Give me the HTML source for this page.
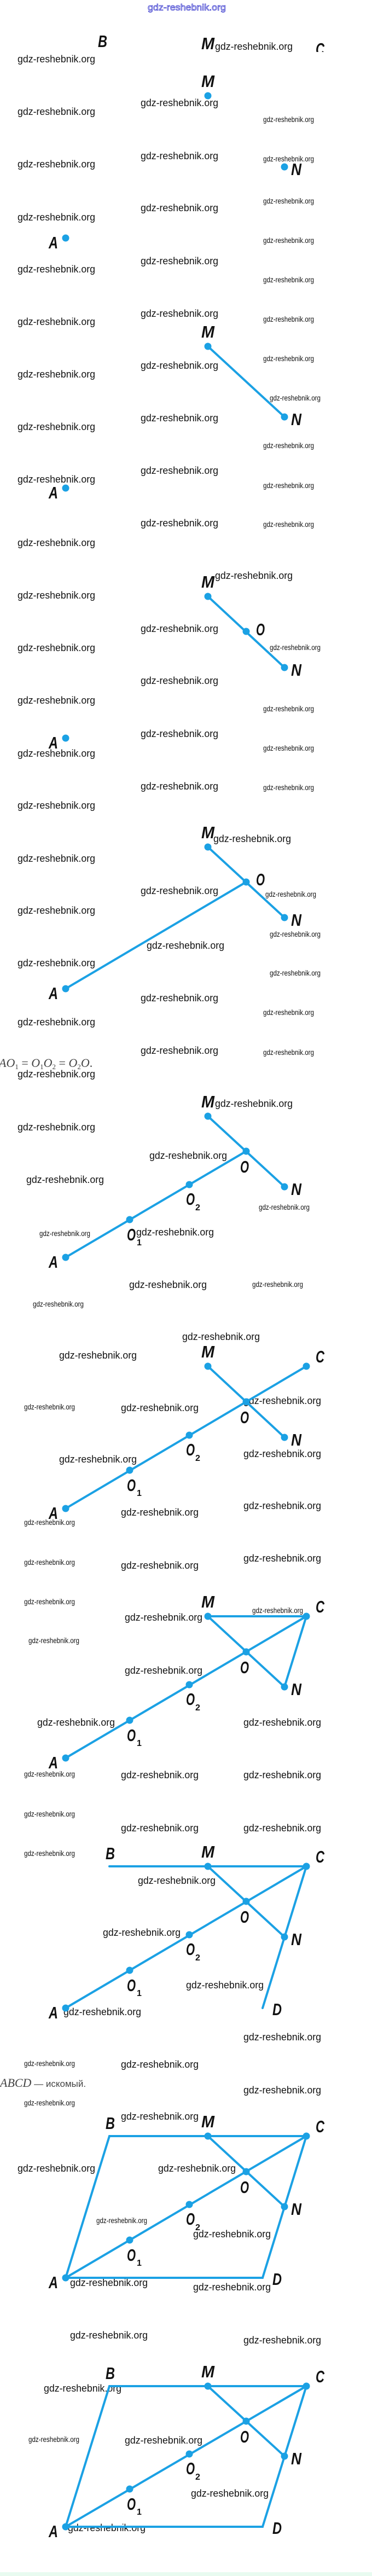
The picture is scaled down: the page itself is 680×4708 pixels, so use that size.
<!DOCTYPE html>
<html><head><meta charset="utf-8"><style>
html,body{margin:0;padding:0;background:#fff;width:680px;height:4708px;overflow:hidden}
svg{display:block}
.L{font-family:"Liberation Sans",sans-serif;font-size:18px;fill:#111}
.S{font-family:"Liberation Sans",sans-serif;font-size:14px;fill:#111}
.lb{font-family:"Liberation Sans",sans-serif;font-size:31px;font-weight:bold;font-style:italic;fill:#111}
.sb{font-family:"Liberation Sans",sans-serif;font-size:16px;font-weight:bold;fill:#111}
.ln{stroke:#1ba1e4;stroke-width:4;stroke-linecap:round;fill:none}
.d{fill:#1ba1e4}
</style></head><body>
<svg width="680" height="4708" viewBox="0 0 680 4708" xmlns="http://www.w3.org/2000/svg">
<rect width="680" height="4708" fill="#fff"/>
<text x="270" y="19" font-family="Liberation Sans,sans-serif" font-size="17" fill="none" stroke="#3333cc" stroke-width="0.8" textLength="143" lengthAdjust="spacingAndGlyphs">gdz-reshebnik.org</text>

<!-- watermarks L -->
<g class="L">
<text x="393" y="91" textLength="142" lengthAdjust="spacingAndGlyphs">gdz-reshebnik.org</text>
<text x="32" y="114" textLength="142" lengthAdjust="spacingAndGlyphs">gdz-reshebnik.org</text>
<text x="32" y="210" textLength="142" lengthAdjust="spacingAndGlyphs">gdz-reshebnik.org</text>
<text x="32" y="306" textLength="142" lengthAdjust="spacingAndGlyphs">gdz-reshebnik.org</text>
<text x="32" y="403" textLength="142" lengthAdjust="spacingAndGlyphs">gdz-reshebnik.org</text>
<text x="32" y="498" textLength="142" lengthAdjust="spacingAndGlyphs">gdz-reshebnik.org</text>
<text x="32" y="594" textLength="142" lengthAdjust="spacingAndGlyphs">gdz-reshebnik.org</text>
<text x="32" y="690" textLength="142" lengthAdjust="spacingAndGlyphs">gdz-reshebnik.org</text>
<text x="32" y="786" textLength="142" lengthAdjust="spacingAndGlyphs">gdz-reshebnik.org</text>
<text x="32" y="882" textLength="142" lengthAdjust="spacingAndGlyphs">gdz-reshebnik.org</text>
<text x="32" y="998" textLength="142" lengthAdjust="spacingAndGlyphs">gdz-reshebnik.org</text>
<text x="32" y="1094" textLength="142" lengthAdjust="spacingAndGlyphs">gdz-reshebnik.org</text>
<text x="32" y="1190" textLength="142" lengthAdjust="spacingAndGlyphs">gdz-reshebnik.org</text>
<text x="32" y="1286" textLength="142" lengthAdjust="spacingAndGlyphs">gdz-reshebnik.org</text>
<text x="32" y="1383" textLength="142" lengthAdjust="spacingAndGlyphs">gdz-reshebnik.org</text>
<text x="32" y="1478" textLength="142" lengthAdjust="spacingAndGlyphs">gdz-reshebnik.org</text>
<text x="32" y="1575" textLength="142" lengthAdjust="spacingAndGlyphs">gdz-reshebnik.org</text>
<text x="32" y="1670" textLength="142" lengthAdjust="spacingAndGlyphs">gdz-reshebnik.org</text>
<text x="32" y="1766" textLength="142" lengthAdjust="spacingAndGlyphs">gdz-reshebnik.org</text>
<text x="32" y="1874" textLength="142" lengthAdjust="spacingAndGlyphs">gdz-reshebnik.org</text>
<text x="32" y="1969" textLength="142" lengthAdjust="spacingAndGlyphs">gdz-reshebnik.org</text>
<text x="32" y="2066" textLength="142" lengthAdjust="spacingAndGlyphs">gdz-reshebnik.org</text>
<text x="257" y="194" textLength="142" lengthAdjust="spacingAndGlyphs">gdz-reshebnik.org</text>
<text x="257" y="291" textLength="142" lengthAdjust="spacingAndGlyphs">gdz-reshebnik.org</text>
<text x="257" y="386" textLength="142" lengthAdjust="spacingAndGlyphs">gdz-reshebnik.org</text>
<text x="257" y="483" textLength="142" lengthAdjust="spacingAndGlyphs">gdz-reshebnik.org</text>
<text x="257" y="579" textLength="142" lengthAdjust="spacingAndGlyphs">gdz-reshebnik.org</text>
<text x="257" y="674" textLength="142" lengthAdjust="spacingAndGlyphs">gdz-reshebnik.org</text>
<text x="257" y="770" textLength="142" lengthAdjust="spacingAndGlyphs">gdz-reshebnik.org</text>
<text x="257" y="866" textLength="142" lengthAdjust="spacingAndGlyphs">gdz-reshebnik.org</text>
<text x="257" y="962" textLength="142" lengthAdjust="spacingAndGlyphs">gdz-reshebnik.org</text>
<text x="257" y="1155" textLength="142" lengthAdjust="spacingAndGlyphs">gdz-reshebnik.org</text>
<text x="257" y="1250" textLength="142" lengthAdjust="spacingAndGlyphs">gdz-reshebnik.org</text>
<text x="257" y="1347" textLength="142" lengthAdjust="spacingAndGlyphs">gdz-reshebnik.org</text>
<text x="257" y="1443" textLength="142" lengthAdjust="spacingAndGlyphs">gdz-reshebnik.org</text>
<text x="257" y="1634" textLength="142" lengthAdjust="spacingAndGlyphs">gdz-reshebnik.org</text>
<text x="268" y="1734" textLength="142" lengthAdjust="spacingAndGlyphs">gdz-reshebnik.org</text>
<text x="257" y="1830" textLength="142" lengthAdjust="spacingAndGlyphs">gdz-reshebnik.org</text>
<text x="257" y="1926" textLength="142" lengthAdjust="spacingAndGlyphs">gdz-reshebnik.org</text>
<text x="393" y="1058" textLength="142" lengthAdjust="spacingAndGlyphs">gdz-reshebnik.org</text>
<text x="390" y="1539" textLength="142" lengthAdjust="spacingAndGlyphs">gdz-reshebnik.org</text>
<text x="393" y="2023" textLength="142" lengthAdjust="spacingAndGlyphs">gdz-reshebnik.org</text>
<text x="273" y="2118" textLength="142" lengthAdjust="spacingAndGlyphs">gdz-reshebnik.org</text>
<text x="48" y="2162" textLength="142" lengthAdjust="spacingAndGlyphs">gdz-reshebnik.org</text>
<text x="249" y="2258" textLength="142" lengthAdjust="spacingAndGlyphs">gdz-reshebnik.org</text>
<text x="236" y="2354" textLength="142" lengthAdjust="spacingAndGlyphs">gdz-reshebnik.org</text>
<text x="333" y="2449" textLength="142" lengthAdjust="spacingAndGlyphs">gdz-reshebnik.org</text>
<text x="108" y="2483" textLength="142" lengthAdjust="spacingAndGlyphs">gdz-reshebnik.org</text>
<text x="221" y="2579" textLength="142" lengthAdjust="spacingAndGlyphs">gdz-reshebnik.org</text>
<text x="445" y="2566" textLength="142" lengthAdjust="spacingAndGlyphs">gdz-reshebnik.org</text>
<text x="108" y="2673" textLength="142" lengthAdjust="spacingAndGlyphs">gdz-reshebnik.org</text>
<text x="445" y="2663" textLength="142" lengthAdjust="spacingAndGlyphs">gdz-reshebnik.org</text>
<text x="445" y="2758" textLength="142" lengthAdjust="spacingAndGlyphs">gdz-reshebnik.org</text>
<text x="221" y="2770" textLength="142" lengthAdjust="spacingAndGlyphs">gdz-reshebnik.org</text>
<text x="221" y="2867" textLength="142" lengthAdjust="spacingAndGlyphs">gdz-reshebnik.org</text>
<text x="445" y="2854" textLength="142" lengthAdjust="spacingAndGlyphs">gdz-reshebnik.org</text>
<text x="228" y="2962" textLength="142" lengthAdjust="spacingAndGlyphs">gdz-reshebnik.org</text>
<text x="228" y="3059" textLength="142" lengthAdjust="spacingAndGlyphs">gdz-reshebnik.org</text>
<text x="68" y="3154" textLength="142" lengthAdjust="spacingAndGlyphs">gdz-reshebnik.org</text>
<text x="445" y="3154" textLength="142" lengthAdjust="spacingAndGlyphs">gdz-reshebnik.org</text>
<text x="221" y="3250" textLength="142" lengthAdjust="spacingAndGlyphs">gdz-reshebnik.org</text>
<text x="445" y="3250" textLength="142" lengthAdjust="spacingAndGlyphs">gdz-reshebnik.org</text>
<text x="221" y="3347" textLength="142" lengthAdjust="spacingAndGlyphs">gdz-reshebnik.org</text>
<text x="445" y="3347" textLength="142" lengthAdjust="spacingAndGlyphs">gdz-reshebnik.org</text>
<text x="252" y="3443" textLength="142" lengthAdjust="spacingAndGlyphs">gdz-reshebnik.org</text>
<text x="188" y="3538" textLength="142" lengthAdjust="spacingAndGlyphs">gdz-reshebnik.org</text>
<text x="340" y="3634" textLength="142" lengthAdjust="spacingAndGlyphs">gdz-reshebnik.org</text>
<text x="116" y="3683" textLength="142" lengthAdjust="spacingAndGlyphs">gdz-reshebnik.org</text>
<text x="445" y="3729" textLength="142" lengthAdjust="spacingAndGlyphs">gdz-reshebnik.org</text>
<text x="221" y="3779" textLength="142" lengthAdjust="spacingAndGlyphs">gdz-reshebnik.org</text>
<text x="445" y="3826" textLength="142" lengthAdjust="spacingAndGlyphs">gdz-reshebnik.org</text>
<text x="221" y="3874" textLength="142" lengthAdjust="spacingAndGlyphs">gdz-reshebnik.org</text>
<text x="32" y="3969" textLength="142" lengthAdjust="spacingAndGlyphs">gdz-reshebnik.org</text>
<text x="289" y="3969" textLength="142" lengthAdjust="spacingAndGlyphs">gdz-reshebnik.org</text>
<text x="353" y="4089" textLength="142" lengthAdjust="spacingAndGlyphs">gdz-reshebnik.org</text>
<text x="128" y="4178" textLength="142" lengthAdjust="spacingAndGlyphs">gdz-reshebnik.org</text>
<text x="353" y="4186" textLength="142" lengthAdjust="spacingAndGlyphs">gdz-reshebnik.org</text>
<text x="128" y="4274" textLength="142" lengthAdjust="spacingAndGlyphs">gdz-reshebnik.org</text>
<text x="445" y="4283" textLength="142" lengthAdjust="spacingAndGlyphs">gdz-reshebnik.org</text>
<text x="80" y="4371" textLength="142" lengthAdjust="spacingAndGlyphs">gdz-reshebnik.org</text>
<text x="228" y="4466" textLength="142" lengthAdjust="spacingAndGlyphs">gdz-reshebnik.org</text>
<text x="349" y="4563" textLength="142" lengthAdjust="spacingAndGlyphs">gdz-reshebnik.org</text>
<text x="124" y="4626" textLength="142" lengthAdjust="spacingAndGlyphs">gdz-reshebnik.org</text>
</g>
<!-- watermarks S -->
<g class="S">
<text x="481" y="223" textLength="93" lengthAdjust="spacingAndGlyphs">gdz-reshebnik.org</text>
<text x="481" y="295" textLength="93" lengthAdjust="spacingAndGlyphs">gdz-reshebnik.org</text>
<text x="481" y="372" textLength="93" lengthAdjust="spacingAndGlyphs">gdz-reshebnik.org</text>
<text x="481" y="444" textLength="93" lengthAdjust="spacingAndGlyphs">gdz-reshebnik.org</text>
<text x="481" y="516" textLength="93" lengthAdjust="spacingAndGlyphs">gdz-reshebnik.org</text>
<text x="481" y="588" textLength="93" lengthAdjust="spacingAndGlyphs">gdz-reshebnik.org</text>
<text x="481" y="660" textLength="93" lengthAdjust="spacingAndGlyphs">gdz-reshebnik.org</text>
<text x="493" y="732" textLength="93" lengthAdjust="spacingAndGlyphs">gdz-reshebnik.org</text>
<text x="481" y="819" textLength="93" lengthAdjust="spacingAndGlyphs">gdz-reshebnik.org</text>
<text x="481" y="892" textLength="93" lengthAdjust="spacingAndGlyphs">gdz-reshebnik.org</text>
<text x="481" y="963" textLength="93" lengthAdjust="spacingAndGlyphs">gdz-reshebnik.org</text>
<text x="493" y="1188" textLength="93" lengthAdjust="spacingAndGlyphs">gdz-reshebnik.org</text>
<text x="481" y="1300" textLength="93" lengthAdjust="spacingAndGlyphs">gdz-reshebnik.org</text>
<text x="481" y="1372" textLength="93" lengthAdjust="spacingAndGlyphs">gdz-reshebnik.org</text>
<text x="481" y="1444" textLength="93" lengthAdjust="spacingAndGlyphs">gdz-reshebnik.org</text>
<text x="485" y="1639" textLength="93" lengthAdjust="spacingAndGlyphs">gdz-reshebnik.org</text>
<text x="493" y="1712" textLength="93" lengthAdjust="spacingAndGlyphs">gdz-reshebnik.org</text>
<text x="493" y="1783" textLength="93" lengthAdjust="spacingAndGlyphs">gdz-reshebnik.org</text>
<text x="481" y="1855" textLength="93" lengthAdjust="spacingAndGlyphs">gdz-reshebnik.org</text>
<text x="481" y="1928" textLength="93" lengthAdjust="spacingAndGlyphs">gdz-reshebnik.org</text>
<text x="473" y="2211" textLength="93" lengthAdjust="spacingAndGlyphs">gdz-reshebnik.org</text>
<text x="72" y="2259" textLength="93" lengthAdjust="spacingAndGlyphs">gdz-reshebnik.org</text>
<text x="461" y="2352" textLength="93" lengthAdjust="spacingAndGlyphs">gdz-reshebnik.org</text>
<text x="60" y="2388" textLength="93" lengthAdjust="spacingAndGlyphs">gdz-reshebnik.org</text>
<text x="44" y="2576" textLength="93" lengthAdjust="spacingAndGlyphs">gdz-reshebnik.org</text>
<text x="44" y="2787" textLength="93" lengthAdjust="spacingAndGlyphs">gdz-reshebnik.org</text>
<text x="44" y="2860" textLength="93" lengthAdjust="spacingAndGlyphs">gdz-reshebnik.org</text>
<text x="44" y="2932" textLength="93" lengthAdjust="spacingAndGlyphs">gdz-reshebnik.org</text>
<text x="461" y="2948" textLength="93" lengthAdjust="spacingAndGlyphs">gdz-reshebnik.org</text>
<text x="52" y="3003" textLength="93" lengthAdjust="spacingAndGlyphs">gdz-reshebnik.org</text>
<text x="44" y="3247" textLength="93" lengthAdjust="spacingAndGlyphs">gdz-reshebnik.org</text>
<text x="44" y="3320" textLength="93" lengthAdjust="spacingAndGlyphs">gdz-reshebnik.org</text>
<text x="44" y="3392" textLength="93" lengthAdjust="spacingAndGlyphs">gdz-reshebnik.org</text>
<text x="44" y="3776" textLength="93" lengthAdjust="spacingAndGlyphs">gdz-reshebnik.org</text>
<text x="44" y="3848" textLength="93" lengthAdjust="spacingAndGlyphs">gdz-reshebnik.org</text>
<text x="176" y="4063" textLength="93" lengthAdjust="spacingAndGlyphs">gdz-reshebnik.org</text>
<text x="52" y="4463" textLength="93" lengthAdjust="spacingAndGlyphs">gdz-reshebnik.org</text>
</g>

<!-- formulas -->
<text x="-2" y="1950" font-family="Liberation Serif,serif" font-size="22" fill="#444"><tspan font-style="italic">AO</tspan><tspan font-size="13" dy="4">1</tspan><tspan dy="-4"> = </tspan><tspan font-style="italic">O</tspan><tspan font-size="13" dy="4">1</tspan><tspan dy="-4" font-style="italic">O</tspan><tspan font-size="13" dy="4">2</tspan><tspan dy="-4"> = </tspan><tspan font-style="italic">O</tspan><tspan font-size="13" dy="4">2</tspan><tspan dy="-4" font-style="italic">O</tspan><tspan>.</tspan></text>
<text x="0" y="3814" font-family="Liberation Serif,serif" font-size="22" fill="#444"><tspan font-style="italic">ABCD</tspan><tspan font-family="Liberation Sans,sans-serif" font-size="17"> — искомый.</tspan></text>

<!-- Fig0 -->
<defs><clipPath id="c0"><rect x="0" y="0" width="680" height="95"/></clipPath></defs>
<text class="lb" x="179" y="86" textLength="17" lengthAdjust="spacingAndGlyphs">B</text>
<text class="lb" x="368" y="90" textLength="24" lengthAdjust="spacingAndGlyphs">M</text>
<text class="lb" x="577" y="100" textLength="16" lengthAdjust="spacingAndGlyphs" clip-path="url(#c0)">C</text>

<!-- Fig1 -->
<g>
<circle class="d" cx="380" cy="175" r="6.5"/><circle class="d" cx="520" cy="305" r="6.5"/><circle class="d" cx="120" cy="435" r="6.5"/>
<text class="lb" x="368" y="159" textLength="24" lengthAdjust="spacingAndGlyphs">M</text>
<text class="lb" x="532" y="320" textLength="19" lengthAdjust="spacingAndGlyphs">N</text>
<text class="lb" x="89" y="454" textLength="17" lengthAdjust="spacingAndGlyphs">A</text>
</g>
<!-- Fig2 -->
<g>
<line class="ln" x1="380" y1="633" x2="520" y2="762"/>
<circle class="d" cx="380" cy="633" r="6.5"/><circle class="d" cx="520" cy="762" r="6.5"/><circle class="d" cx="120" cy="892" r="6.5"/>
<text class="lb" x="368" y="617" textLength="24" lengthAdjust="spacingAndGlyphs">M</text>
<text class="lb" x="532" y="777" textLength="19" lengthAdjust="spacingAndGlyphs">N</text>
<text class="lb" x="89" y="911" textLength="17" lengthAdjust="spacingAndGlyphs">A</text>
</g>
<!-- Fig3 -->
<g>
<line class="ln" x1="380" y1="1090" x2="520" y2="1220"/>
<circle class="d" cx="380" cy="1090" r="6.5"/><circle class="d" cx="450" cy="1154" r="6.5"/><circle class="d" cx="520" cy="1220" r="6.5"/><circle class="d" cx="120" cy="1349" r="6.5"/>
<text class="lb" x="368" y="1074" textLength="24" lengthAdjust="spacingAndGlyphs">M</text>
<text class="lb" x="468" y="1161" textLength="16" lengthAdjust="spacingAndGlyphs">O</text>
<text class="lb" x="532" y="1235" textLength="19" lengthAdjust="spacingAndGlyphs">N</text>
<text class="lb" x="89" y="1368" textLength="17" lengthAdjust="spacingAndGlyphs">A</text>
</g>
<!-- Fig4 -->
<g>
<line class="ln" x1="380" y1="1548" x2="520" y2="1677"/>
<line class="ln" x1="120" y1="1807" x2="450" y2="1612"/>
<circle class="d" cx="380" cy="1548" r="6.5"/><circle class="d" cx="450" cy="1612" r="6.5"/><circle class="d" cx="520" cy="1677" r="6.5"/><circle class="d" cx="120" cy="1807" r="6.5"/>
<text class="lb" x="368" y="1532" textLength="24" lengthAdjust="spacingAndGlyphs">M</text>
<text class="lb" x="468" y="1618" textLength="16" lengthAdjust="spacingAndGlyphs">O</text>
<text class="lb" x="532" y="1692" textLength="19" lengthAdjust="spacingAndGlyphs">N</text>
<text class="lb" x="89" y="1826" textLength="17" lengthAdjust="spacingAndGlyphs">A</text>
</g>
<!-- Fig5 -->
<g>
<line class="ln" x1="380" y1="2040" x2="520" y2="2169"/>
<line class="ln" x1="120" y1="2298" x2="450" y2="2104"/>
<circle class="d" cx="380" cy="2040" r="6.5"/><circle class="d" cx="450" cy="2104" r="6.5"/><circle class="d" cx="520" cy="2169" r="6.5"/>
<circle class="d" cx="346" cy="2165" r="6.5"/><circle class="d" cx="237" cy="2229" r="6.5"/><circle class="d" cx="120" cy="2298" r="6.5"/>
<text class="lb" x="368" y="2024" textLength="24" lengthAdjust="spacingAndGlyphs">M</text>
<text class="lb" x="439" y="2143" textLength="16" lengthAdjust="spacingAndGlyphs">O</text>
<text class="lb" x="532" y="2184" textLength="19" lengthAdjust="spacingAndGlyphs">N</text>
<text class="lb" x="340" y="2202" textLength="16" lengthAdjust="spacingAndGlyphs">O</text><text class="sb" x="357" y="2212">2</text>
<text class="lb" x="232" y="2267" textLength="16" lengthAdjust="spacingAndGlyphs">O</text><text class="sb" x="250" y="2276">1</text>
<text class="lb" x="89" y="2317" textLength="17" lengthAdjust="spacingAndGlyphs">A</text>
</g>
<!-- Fig6 -->
<g>
<line class="ln" x1="380" y1="2497" x2="520" y2="2627"/>
<line class="ln" x1="120" y1="2757" x2="560" y2="2497"/>
<circle class="d" cx="380" cy="2497" r="6.5"/><circle class="d" cx="560" cy="2497" r="6.5"/><circle class="d" cx="450" cy="2562" r="6.5"/><circle class="d" cx="520" cy="2627" r="6.5"/>
<circle class="d" cx="346" cy="2623" r="6.5"/><circle class="d" cx="237" cy="2687" r="6.5"/><circle class="d" cx="120" cy="2757" r="6.5"/>
<text class="lb" x="368" y="2481" textLength="24" lengthAdjust="spacingAndGlyphs">M</text>
<text class="lb" x="577" y="2490" textLength="16" lengthAdjust="spacingAndGlyphs">C</text>
<text class="lb" x="439" y="2601" textLength="16" lengthAdjust="spacingAndGlyphs">O</text>
<text class="lb" x="532" y="2642" textLength="19" lengthAdjust="spacingAndGlyphs">N</text>
<text class="lb" x="340" y="2660" textLength="16" lengthAdjust="spacingAndGlyphs">O</text><text class="sb" x="357" y="2670">2</text>
<text class="lb" x="232" y="2725" textLength="16" lengthAdjust="spacingAndGlyphs">O</text><text class="sb" x="250" y="2734">1</text>
<text class="lb" x="89" y="2776" textLength="17" lengthAdjust="spacingAndGlyphs">A</text>
</g>
<!-- Fig7 -->
<g>
<line class="ln" x1="380" y1="2954" x2="560" y2="2954"/>
<line class="ln" x1="380" y1="2954" x2="520" y2="3083"/>
<line class="ln" x1="120" y1="3213" x2="560" y2="2954"/>
<line class="ln" x1="560" y1="2954" x2="520" y2="3083"/>
<circle class="d" cx="380" cy="2954" r="6.5"/><circle class="d" cx="560" cy="2954" r="6.5"/><circle class="d" cx="450" cy="3019" r="6.5"/><circle class="d" cx="520" cy="3083" r="6.5"/>
<circle class="d" cx="346" cy="3079" r="6.5"/><circle class="d" cx="237" cy="3144" r="6.5"/><circle class="d" cx="120" cy="3213" r="6.5"/>
<text class="lb" x="368" y="2938" textLength="24" lengthAdjust="spacingAndGlyphs">M</text>
<text class="lb" x="577" y="2947" textLength="16" lengthAdjust="spacingAndGlyphs">C</text>
<text class="lb" x="439" y="3058" textLength="16" lengthAdjust="spacingAndGlyphs">O</text>
<text class="lb" x="532" y="3098" textLength="19" lengthAdjust="spacingAndGlyphs">N</text>
<text class="lb" x="340" y="3116" textLength="16" lengthAdjust="spacingAndGlyphs">O</text><text class="sb" x="357" y="3126">2</text>
<text class="lb" x="232" y="3182" textLength="16" lengthAdjust="spacingAndGlyphs">O</text><text class="sb" x="250" y="3191">1</text>
<text class="lb" x="89" y="3232" textLength="17" lengthAdjust="spacingAndGlyphs">A</text>
</g>
<!-- Fig8 -->
<g>
<line class="ln" x1="200" y1="3411" x2="560" y2="3411"/>
<line class="ln" x1="380" y1="3411" x2="520" y2="3540"/>
<line class="ln" x1="120" y1="3670" x2="560" y2="3411"/>
<line class="ln" x1="560" y1="3411" x2="480" y2="3670"/>
<circle class="d" cx="380" cy="3411" r="6.5"/><circle class="d" cx="560" cy="3411" r="6.5"/><circle class="d" cx="450" cy="3475" r="6.5"/><circle class="d" cx="520" cy="3540" r="6.5"/>
<circle class="d" cx="346" cy="3536" r="6.5"/><circle class="d" cx="237" cy="3601" r="6.5"/><circle class="d" cx="120" cy="3670" r="6.5"/>
<text class="lb" x="193" y="3398" textLength="17" lengthAdjust="spacingAndGlyphs">B</text>
<text class="lb" x="368" y="3395" textLength="24" lengthAdjust="spacingAndGlyphs">M</text>
<text class="lb" x="577" y="3404" textLength="16" lengthAdjust="spacingAndGlyphs">C</text>
<text class="lb" x="439" y="3514" textLength="16" lengthAdjust="spacingAndGlyphs">O</text>
<text class="lb" x="532" y="3555" textLength="19" lengthAdjust="spacingAndGlyphs">N</text>
<text class="lb" x="498" y="3683" textLength="17" lengthAdjust="spacingAndGlyphs">D</text>
<text class="lb" x="340" y="3573" textLength="16" lengthAdjust="spacingAndGlyphs">O</text><text class="sb" x="357" y="3583">2</text>
<text class="lb" x="232" y="3639" textLength="16" lengthAdjust="spacingAndGlyphs">O</text><text class="sb" x="250" y="3648">1</text>
<text class="lb" x="89" y="3689" textLength="17" lengthAdjust="spacingAndGlyphs">A</text>
</g>
<!-- Fig9 -->
<g>
<polygon class="ln" points="120,4163 200,3904 560,3904 480,4163"/>
<line class="ln" x1="380" y1="3904" x2="520" y2="4033"/>
<line class="ln" x1="120" y1="4163" x2="560" y2="3904"/>
<circle class="d" cx="380" cy="3904" r="6.5"/><circle class="d" cx="560" cy="3904" r="6.5"/><circle class="d" cx="450" cy="3969" r="6.5"/><circle class="d" cx="520" cy="4033" r="6.5"/>
<circle class="d" cx="346" cy="4029" r="6.5"/><circle class="d" cx="237" cy="4094" r="6.5"/><circle class="d" cx="120" cy="4163" r="6.5"/>
<text class="lb" x="193" y="3891" textLength="17" lengthAdjust="spacingAndGlyphs">B</text>
<text class="lb" x="368" y="3888" textLength="24" lengthAdjust="spacingAndGlyphs">M</text>
<text class="lb" x="577" y="3897" textLength="16" lengthAdjust="spacingAndGlyphs">C</text>
<text class="lb" x="439" y="4008" textLength="16" lengthAdjust="spacingAndGlyphs">O</text>
<text class="lb" x="532" y="4048" textLength="19" lengthAdjust="spacingAndGlyphs">N</text>
<text class="lb" x="498" y="4176" textLength="17" lengthAdjust="spacingAndGlyphs">D</text>
<text class="lb" x="340" y="4066" textLength="16" lengthAdjust="spacingAndGlyphs">O</text><text class="sb" x="357" y="4076">2</text>
<text class="lb" x="232" y="4132" textLength="16" lengthAdjust="spacingAndGlyphs">O</text><text class="sb" x="250" y="4141">1</text>
<text class="lb" x="89" y="4182" textLength="17" lengthAdjust="spacingAndGlyphs">A</text>
</g>
<!-- Fig10 -->
<g>
<polygon class="ln" points="120,4618 200,4361 560,4361 480,4618"/>
<line class="ln" x1="380" y1="4361" x2="520" y2="4489"/>
<line class="ln" x1="120" y1="4618" x2="560" y2="4361"/>
<circle class="d" cx="380" cy="4361" r="6.5"/><circle class="d" cx="560" cy="4361" r="6.5"/><circle class="d" cx="450" cy="4425" r="6.5"/><circle class="d" cx="520" cy="4489" r="6.5"/>
<circle class="d" cx="346" cy="4485" r="6.5"/><circle class="d" cx="237" cy="4549" r="6.5"/><circle class="d" cx="120" cy="4618" r="6.5"/>
<text class="lb" x="193" y="4348" textLength="17" lengthAdjust="spacingAndGlyphs">B</text>
<text class="lb" x="368" y="4345" textLength="24" lengthAdjust="spacingAndGlyphs">M</text>
<text class="lb" x="577" y="4354" textLength="16" lengthAdjust="spacingAndGlyphs">C</text>
<text class="lb" x="439" y="4464" textLength="16" lengthAdjust="spacingAndGlyphs">O</text>
<text class="lb" x="532" y="4504" textLength="19" lengthAdjust="spacingAndGlyphs">N</text>
<text class="lb" x="498" y="4631" textLength="17" lengthAdjust="spacingAndGlyphs">D</text>
<text class="lb" x="340" y="4522" textLength="16" lengthAdjust="spacingAndGlyphs">O</text><text class="sb" x="357" y="4532">2</text>
<text class="lb" x="232" y="4587" textLength="16" lengthAdjust="spacingAndGlyphs">O</text><text class="sb" x="250" y="4596">1</text>
<text class="lb" x="89" y="4637" textLength="17" lengthAdjust="spacingAndGlyphs">A</text>
</g>
<rect x="0" y="4701" width="680" height="7" fill="#e8fbf0"/>
</svg>
</body></html>
